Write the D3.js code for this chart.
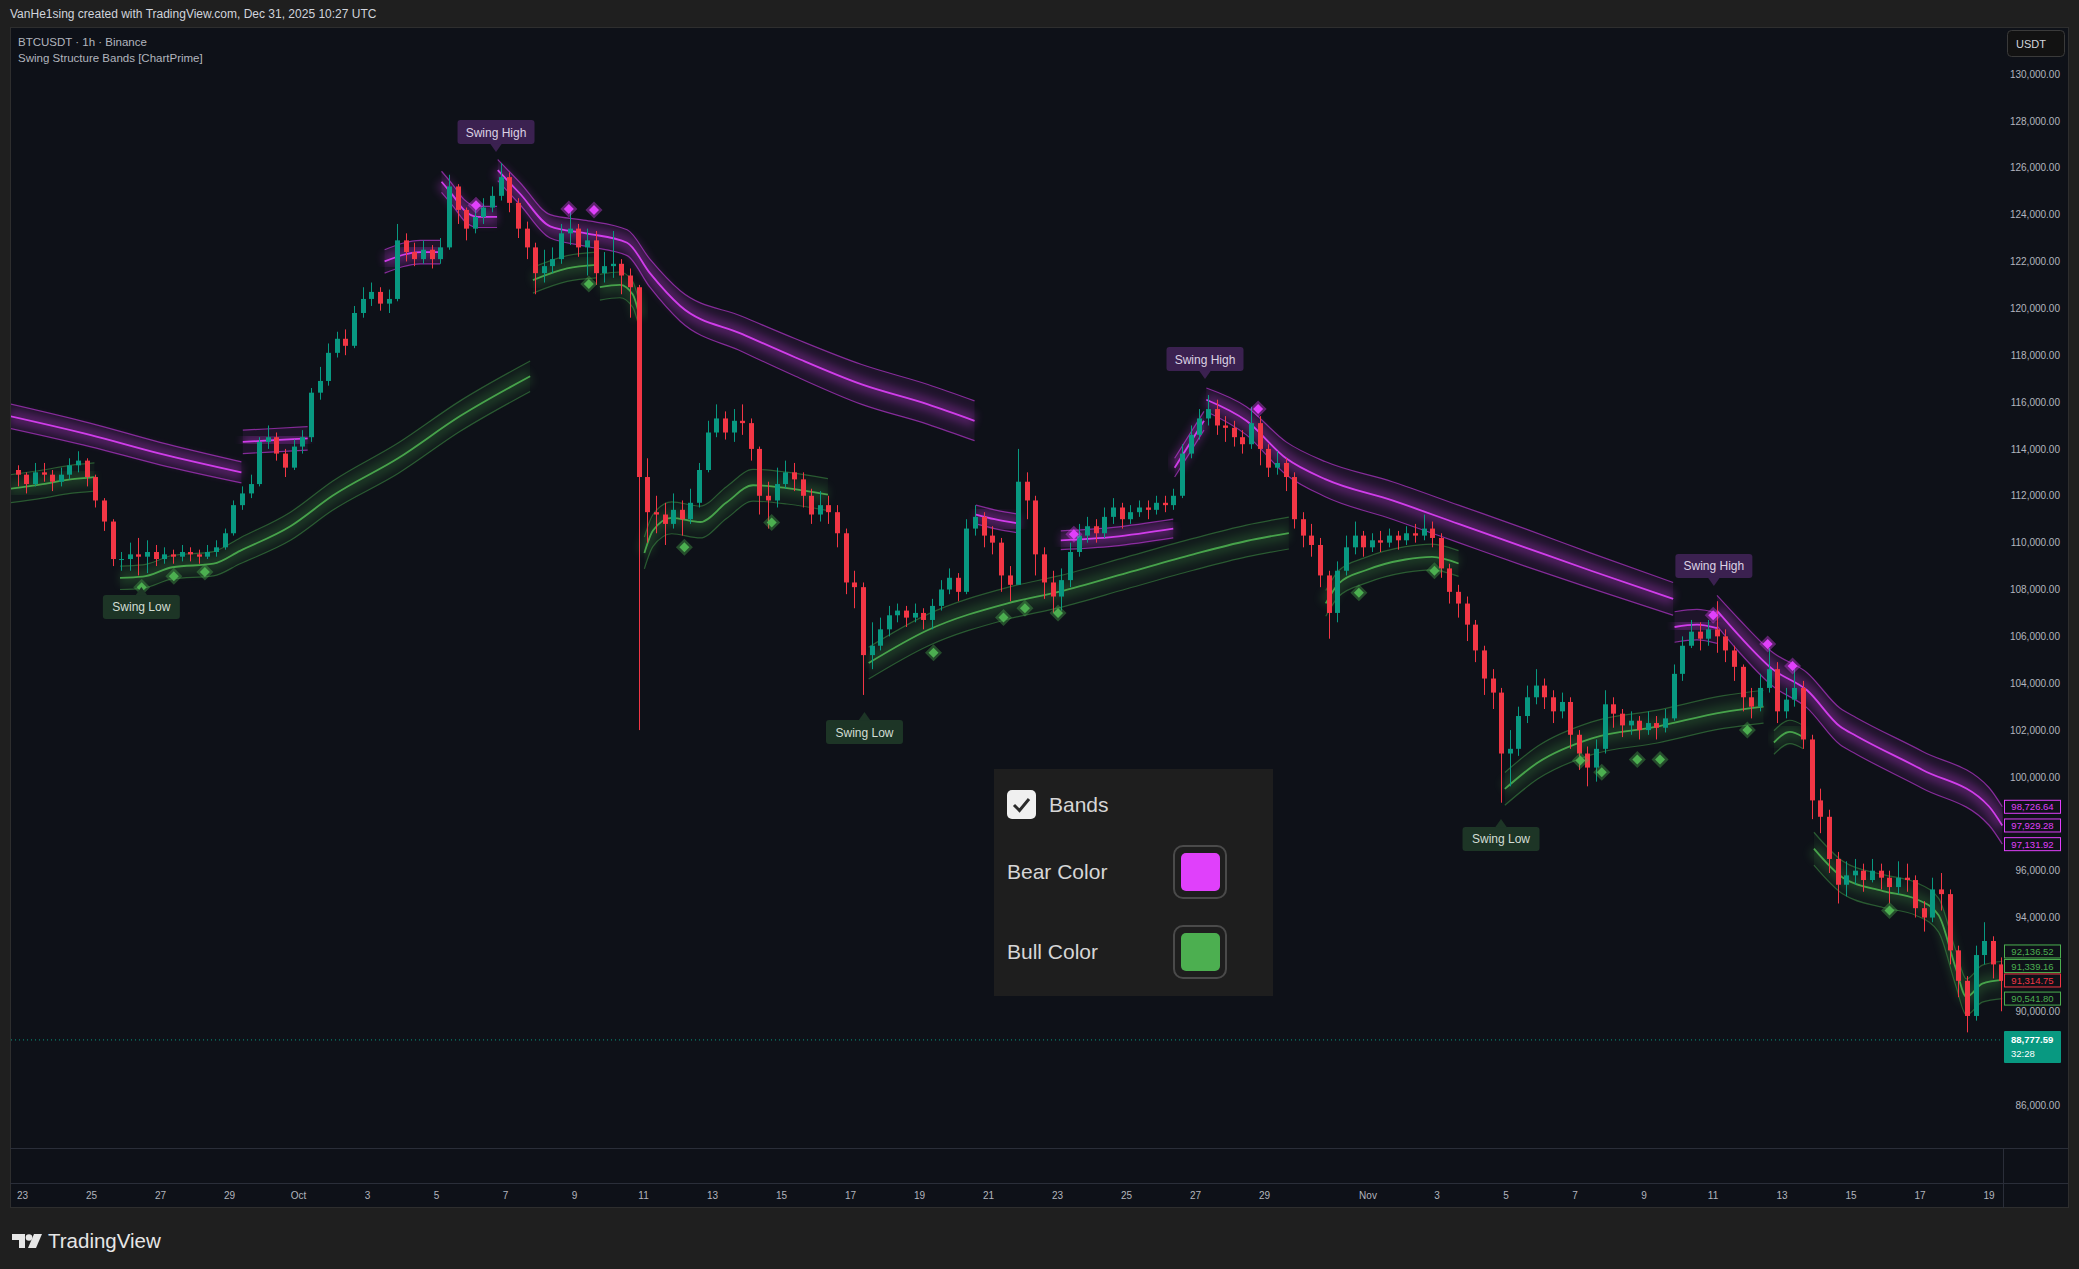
<!DOCTYPE html>
<html><head><meta charset="utf-8">
<script src="https://cdn.jsdelivr.net/npm/d3@7"></script>
<style>
html,body{margin:0;padding:0;background:#1f1f1f;}
svg{display:block;}
text{font-family:"Liberation Sans",Arial,sans-serif;}
</style></head><body>
<svg id="chart" width="2079" height="1269"></svg>
<script>
// ---------------- DATA ----------------
// 6-hour candles (prices in thousands USDT), first candle opens Sep 22 18:00 UTC
const candleStartDay = -0.25;          // days from Sep 23 00:00 UTC
const candleStepDay = 0.25;
const firstOpen = 113.1;
const closes = [
 112.9,
 112.5,113.0,112.9,112.6, 112.9,113.3,113.5,112.8, 111.8,110.9,109.3,109.3, 109.5,109.4,109.6,109.3,
 109.5,109.4,109.6,109.5, 109.4,109.6,109.8,110.4, 111.6,112.1,112.5,114.3, 114.5,113.8,113.2,114.1,
 114.5,116.4,116.9,118.1, 118.7,118.4,119.8,120.4, 120.7,120.2,120.4,122.9, 122.4,122.1,122.5,122.1,
 122.6,125.2,124.2,123.4, 123.9,124.3,124.8,125.6, 124.5,123.4,122.6,121.5, 121.8,122.1,123.2,123.4,
 122.6,122.9,121.5,121.8, 121.9,121.4,120.9,112.8, 111.3,111.2,110.8,111.4, 111.0,111.7,113.1,114.7,
 115.3,114.7,115.2,115.1, 114.0,112.0,111.8,112.5, 113.0,112.7,112.0,111.2, 111.6,111.3,110.4,108.3,
 108.1,105.2,105.6,106.3, 106.9,107.1,106.8,107.0, 106.7,107.3,108.0,108.5, 107.9,110.6,111.1,110.3,
 110.0,108.6,108.2,112.6, 111.8,109.5,108.3,107.7, 108.4,109.6,110.3,110.7, 110.4,111.1,111.5,111.0,
 111.3,111.5,111.4,111.7, 111.6,112.0,113.8,114.6, 115.3,115.7,115.0,114.9, 114.5,114.2,115.1,114.0,
 113.2,113.4,112.8,111.0, 110.3,109.9,108.6,107.0, 108.8,109.8,110.3,109.8, 110.1,110.0,110.3,110.1,
 110.4,110.3,110.6,110.2, 108.9,107.9,107.4,106.5, 105.4,104.2,103.6,101.0, 101.2,102.6,103.4,103.9,
 103.4,102.8,103.2,101.8, 101.0,100.4,101.2,103.1, 102.7,102.2,102.4,102.0, 102.3,102.1,102.5,104.4,
 105.6,106.2,105.9,106.3, 106.0,105.4,104.7,103.4, 103.0,103.8,104.6,102.8, 103.3,103.8,101.6,99.0,
 98.3,96.5,95.4,95.8, 96.0,95.6,96.0,95.7, 95.3,95.7,95.6,94.4, 94.0,95.2,95.0,92.6,
 91.3,89.8,92.4,93.0, 92.0,91.3
];
const highs = [
 113.3,
 113.0,113.4,113.4,113.1, 113.2,113.6,113.9,113.6, 112.9,111.9,111.0,109.6, 110.0,110.2,110.1,109.9,
 109.8,109.7,109.9,109.8, 109.7,109.9,110.1,110.6, 111.8,112.4,112.9,114.5, 115.0,114.7,114.0,114.4,
 114.8,116.6,117.5,118.5, 119.0,119.1,120.1,120.9, 121.1,120.9,120.8,123.6, 123.2,122.8,122.9,122.7,
 123.0,125.7,125.3,124.3, 124.3,124.7,125.2,126.2, 125.8,124.7,123.7,122.8, 122.5,122.6,123.6,124.2,
 123.6,123.4,123.3,122.4, 123.3,122.1,121.7,121.0, 113.6,112.0,111.7,112.1, 111.8,112.3,113.4,115.2,
 115.9,115.6,115.7,115.9, 115.3,114.1,112.6,113.2, 113.5,113.4,113.0,112.3, 112.2,112.0,111.6,110.6,
 108.8,108.3,106.6,106.8, 107.3,107.4,107.3,107.4, 107.2,107.6,108.4,108.9, 108.7,111.0,111.6,111.3,
 110.7,110.2,109.0,114.0, 113.0,112.0,109.8,108.8, 108.9,110.0,110.8,111.1, 111.0,111.5,111.9,111.7,
 111.6,111.8,111.8,112.0, 112.0,112.3,114.2,115.0, 115.7,116.3,116.1,115.4, 115.2,114.8,115.8,115.4,
 114.2,113.9,113.6,113.0, 111.3,110.8,110.2,108.8, 109.2,110.3,110.9,110.5, 110.4,110.5,110.6,110.5,
 110.7,110.8,111.2,110.9, 110.4,109.1,108.2,107.7, 106.7,105.6,104.6,103.8, 102.0,103.0,103.9,104.6,
 104.2,103.7,103.6,103.4, 102.0,101.3,101.6,103.7, 103.4,102.9,102.8,102.6, 102.8,102.6,102.9,104.8,
 106.0,106.7,106.6,106.7, 107.5,106.3,105.6,104.8, 103.8,104.4,105.5,104.9, 103.8,104.6,104.1,101.8,
 99.5,98.6,96.8,96.4, 96.5,96.3,96.5,96.3, 96.0,96.4,96.3,95.8, 94.7,95.7,95.9,95.2,
 92.8,91.5,92.8,93.8, 93.2,92.3
];
const lows = [
 112.4,
 112.1,112.4,112.6,112.2, 112.4,112.7,113.0,112.4, 111.5,110.5,109.0,108.8, 108.8,108.6,108.7,109.0,
 109.1,109.1,109.2,109.2, 109.1,109.3,109.4,109.7, 110.3,111.4,111.9,112.4, 114.0,113.5,112.8,113.1,
 113.8,114.3,116.1,116.7, 117.9,118.0,118.3,119.6, 120.1,119.9,119.8,120.3, 122.0,121.8,121.9,121.7,
 121.9,122.5,123.6,122.9, 123.2,123.6,124.1,124.6, 124.1,123.0,122.1,120.6, 121.1,121.5,121.9,122.7,
 122.2,121.4,121.0,121.1, 121.3,120.6,119.6,102.0, 110.0,110.4,109.9,110.6, 110.3,110.8,111.5,113.0,
 114.5,114.4,114.3,114.6, 113.5,111.2,110.6,111.5, 112.3,112.2,111.5,110.8, 110.9,110.8,109.8,107.8,
 107.2,103.5,104.6,105.4, 106.0,106.6,106.4,106.6, 106.3,106.3,107.1,107.8, 107.5,107.8,110.3,109.8,
 109.5,107.9,107.5,108.3, 111.0,108.6,107.6,107.0, 107.1,108.1,109.4,110.0, 110.0,110.2,110.8,110.6,
 110.8,111.1,111.0,111.2, 111.3,111.4,111.9,113.6, 114.4,115.0,114.6,114.3, 114.1,113.8,114.0,113.3,
 112.8,112.9,112.2,110.6, 109.8,109.4,108.1,105.9, 106.6,108.6,109.5,109.4, 109.6,109.6,109.8,109.7,
 109.9,110.0,110.1,109.8, 108.5,107.4,106.8,105.8, 104.9,103.5,102.9,98.9, 99.6,100.9,102.3,103.1,
 102.9,102.3,102.5,101.2, 100.3,99.6,99.8,101.0, 102.1,101.7,101.8,101.6, 101.8,101.6,101.9,102.4,
 104.1,105.5,105.4,105.6, 105.3,104.9,104.1,102.8, 102.5,102.8,103.6,102.3, 102.5,103.0,101.2,98.2,
 97.6,95.9,94.6,94.9, 95.4,95.1,95.5,95.2, 94.6,95.0,95.1,94.0, 93.4,93.8,94.3,92.0,
 90.6,89.1,89.6,92.0, 91.4,90.0
];

// Band segments: [day, mid (k), half width (k)]
const bearSegments = [
 [[-0.35,115.4,0.52],[1.97,114.6,0.5],[4.0,113.8,0.48],[6.36,113.0,0.45]],
 [[6.40,114.3,0.5],[7.05,114.35,0.5],[8.28,114.45,0.5]],
 [[10.51,122.0,0.5],[11.55,122.4,0.5],[12.12,122.4,0.5]],
 [[12.16,125.4,0.45],[12.5,124.8,0.45],[12.81,124.2,0.45],[13.2,123.9,0.45],[13.77,123.9,0.45]],
 [[13.79,125.9,0.45],[14.43,124.9,0.47],[15.31,123.5,0.5],[16.35,123.2,0.55],[17.54,122.8,0.55],[18.2,121.5,0.6],[19.08,120.1,0.65],[20.88,118.9,0.75],[22.42,117.9,0.8],[24.34,116.75,0.85],[26.26,115.9,0.85],[27.61,115.2,0.85]],
 [[27.65,111.2,0.4],[28.19,111.0,0.4],[28.95,110.8,0.4]],
 [[30.11,110.1,0.4],[31.64,110.25,0.4],[33.37,110.6,0.4]],
 [[33.41,113.2,0.4],[34.26,115.2,0.4]],
 [[34.33,116.1,0.5],[35.49,115.2,0.6],[36.64,113.6,0.7],[37.79,112.7,0.75],[39.72,111.8,0.8],[41.64,110.8,0.8],[43.56,109.8,0.8],[45.48,108.8,0.75],[47.86,107.6,0.7]],
 [[47.90,106.4,0.65],[48.55,106.5,0.65],[49.13,106.35,0.65]],
 [[49.13,107.1,0.65],[49.79,106.0,0.7],[50.74,104.6,0.72],[51.74,103.7,0.75],[52.70,102.15,0.78],[53.17,101.75,0.78],[55.09,100.3,0.79],[57.01,98.75,0.8],[57.4,97.929,0.797]]
];
const bullSegments = [
 [[-0.35,112.3,0.6],[0.6,112.5,0.6],[1.4,112.7,0.6],[2.1,112.8,0.6]],
 [[2.84,108.5,0.5],[3.5,108.55,0.5],[4.36,108.95,0.5],[5.55,109.1,0.52],[6.32,109.65,0.55],[7.78,110.7,0.6],[9.0,112.0,0.62],[10.9,113.6,0.65],[12.7,115.4,0.65],[14.73,117.1,0.65]],
 [[14.81,121.2,0.55],[15.8,121.7,0.55],[16.65,121.85,0.55]],
 [[16.75,120.9,0.55],[17.33,121.0,0.55],[17.7,120.6,0.55],[17.91,119.6,0.55]],
 [[18.04,109.56,0.68],[18.29,110.52,0.68],[18.83,111.06,0.68],[19.66,110.88,0.68],[20.42,111.71,0.68],[21.19,112.45,0.68],[22.17,112.33,0.68],[23.36,112.05,0.68]],
 [[24.54,104.86,0.68],[26.26,106.27,0.68],[28.57,107.41,0.68],[30.11,107.92,0.68],[32.03,108.71,0.68],[33.95,109.5,0.68],[35.49,110.07,0.68],[36.72,110.41,0.68]],
 [[37.79,107.41,0.55],[38.17,108.26,0.55],[38.95,108.82,0.55],[40.1,109.28,0.55],[40.87,109.39,0.55],[41.64,109.11,0.55]],
 [[42.98,99.49,0.7],[43.94,100.62,0.7],[45.48,101.64,0.7],[47.4,102.15,0.7],[49.32,102.77,0.7],[50.48,103.0,0.7]],
 [[50.78,101.47,0.5],[51.24,101.92,0.5],[51.63,101.7,0.5]],
 [[51.94,96.94,0.7],[52.78,95.7,0.7],[53.94,95.13,0.7],[54.9,94.79,0.7],[55.55,94.11,0.72],[56.05,91.85,0.75],[56.36,90.61,0.77],[56.82,91.18,0.79],[57.4,91.339,0.797]]
];

// pivot markers (day, price k)
const bearPivotDays   = [13.16,15.85,16.58,30.49,35.83,49.02,50.6,51.32];
const bearPivotPrices = [124.4,124.24,124.2,110.36,115.7,106.9,105.67,104.73];
const bullPivotDays   = [3.47,4.40,5.30,16.43,19.2,21.73,26.42,28.45,29.07,30.03,38.75,40.94,45.17,45.79,46.82,47.48,50.01,54.13];
const bullPivotPrices = [108.1,108.57,108.75,121.04,109.8,110.86,105.3,106.8,107.2,107.0,107.86,108.8,100.7,100.2,100.74,100.74,102.0,94.3];

// swing labels
const swingHighDays = [13.74,34.29,49.04];
const swingHighPrices = [126.67,116.98,108.15];
const swingLowDays = [3.46,24.42,42.87];
const swingLowPrices = [108.11,102.77,98.21];

// axis (ticks hidden behind scale labels in the reference are not listed)
const priceTicks = [86,90,94,96,100,102,104,106,108,110,112,114,116,118,120,122,124,126,128,130];
const timeTickDays = [0,2,4,6,8,10,12,14,16,18,20,22,24,26,28,30,32,34,36,39,41,43,45,47,49,51,53,55,57];

// right-hand scale labels
const bearLabelValues = [98726.64,97929.28,97131.92];
const bullLabelValues = [92136.52,91339.16,90541.80];
const lastCloseValue = 91314.75;
const currentPrice = 88777.59;
const countdown = "32:28";

// ---------------- DRAW ----------------
const BEAR = "#e040fb", BULL = "#4caf50", UP = "#089981", DOWN = "#f23645";
const svg = d3.select("#chart");
const day0 = Date.UTC(2025,8,23);
const x = d3.scaleLinear().domain([0,57]).range([22, 22+57*34.5]);
const y = d3.scaleLinear().domain([86,130]).range([1105,74]);
const plotL = 10, plotR = 2003, paneT = 27, paneB = 1208;

const defs = svg.append("defs");
defs.append("filter").attr("id","blur").attr("x","-20%").attr("y","-50%").attr("width","140%").attr("height","200%")
  .append("feGaussianBlur").attr("stdDeviation",4);
defs.append("clipPath").attr("id","plotClip").append("rect")
  .attr("x",plotL+1).attr("y",paneT+1).attr("width",plotR-plotL-1).attr("height",1148-paneT-1);

svg.append("rect").attr("width",2079).attr("height",1269).attr("fill","#1f1f1f");
svg.append("rect").attr("x",10.5).attr("y",27.5).attr("width",2058).attr("height",1180)
  .attr("fill","#0e1118").attr("stroke","#2e2e2e");

// header
svg.append("text").attr("x",10).attr("y",18).attr("font-size",12).attr("fill","#d1d4dc")
  .text("VanHe1sing created with TradingView.com, Dec 31, 2025 10:27 UTC");

const plot = svg.append("g").attr("clip-path","url(#plotClip)");

// bands
function drawBands(segs, color, fillOpacity, glowOpacity, dimOpacity){
  const g = plot.append("g");
  segs.forEach(seg=>{
    const pts = seg.map(p=>({d:p[0],m:p[1],h:p[2]}));
    const area = d3.area().curve(d3.curveMonotoneX).x(p=>x(p.d)).y0(p=>y(p.m-p.h)).y1(p=>y(p.m+p.h));
    const ln = acc => d3.line().curve(d3.curveMonotoneX).x(p=>x(p.d)).y(acc);
    g.append("path").attr("d",area(pts)).attr("fill",color).attr("opacity",fillOpacity);
    g.append("path").attr("d",ln(p=>y(p.m))(pts)).attr("fill","none").attr("stroke",color)
      .attr("stroke-width",14).attr("opacity",glowOpacity).attr("filter","url(#blur)");
    g.append("path").attr("d",ln(p=>y(p.m+p.h))(pts)).attr("fill","none").attr("stroke",color)
      .attr("stroke-width",1.2).attr("opacity",dimOpacity);
    g.append("path").attr("d",ln(p=>y(p.m-p.h))(pts)).attr("fill","none").attr("stroke",color)
      .attr("stroke-width",1.2).attr("opacity",dimOpacity);
    g.append("path").attr("d",ln(p=>y(p.m))(pts)).attr("fill","none").attr("stroke",color)
      .attr("stroke-width",1.8).attr("opacity",0.9);
  });
}
drawBands(bearSegments, BEAR, 0.08, 0.26, 0.55);
drawBands(bullSegments, BULL, 0.06, 0.2, 0.45);

// candles
const candles = closes.map((c,i)=>({
  d: candleStartDay + i*candleStepDay + candleStepDay/2,
  o: i===0 ? firstOpen : closes[i-1], c, h: highs[i], l: lows[i]
}));
const cg = plot.append("g");
cg.selectAll("line").data(candles).join("line")
  .attr("x1",c=>Math.round(x(c.d))+0.5).attr("x2",c=>Math.round(x(c.d))+0.5)
  .attr("y1",c=>y(c.h)).attr("y2",c=>y(c.l))
  .attr("stroke",c=>c.c>=c.o?UP:DOWN).attr("stroke-width",1);
cg.selectAll("rect").data(candles).join("rect")
  .attr("x",c=>Math.round(x(c.d))-2).attr("width",5)
  .attr("y",c=>y(Math.max(c.o,c.c))).attr("height",c=>Math.max(1,Math.abs(y(c.o)-y(c.c))))
  .attr("fill",c=>c.c>=c.o?UP:DOWN);

// pivot diamonds
function diamond(cx,cy,r){return `M${cx},${cy-r}L${cx+r},${cy}L${cx},${cy+r}L${cx-r},${cy}Z`;}
function drawPivots(days, prices, color){
  const g = plot.append("g");
  days.forEach((d,i)=>{
    const cx=x(d), cy=y(prices[i]);
    g.append("path").attr("d",diamond(cx,cy,8.5)).attr("fill",color).attr("opacity",0.38);
    g.append("path").attr("d",diamond(cx,cy,5)).attr("fill",color);
  });
}
drawPivots(bearPivotDays, bearPivotPrices, BEAR);
drawPivots(bullPivotDays, bullPivotPrices, BULL);

// swing labels
function drawSwing(days, prices, isHigh){
  const g = plot.append("g");
  days.forEach((d,i)=>{
    const cx=x(d), cy=y(prices[i]);
    const fill = isHigh ? "#3b2150" : "#1d3526";
    const tc = isHigh ? "#dcd2e4" : "#d3ded5";
    const by = isHigh ? cy-32 : cy+8;
    const tri = isHigh ? `M${cx-6},${cy-8.5}L${cx+6},${cy-8.5}L${cx},${cy}Z` : `M${cx-6},${cy+8.5}L${cx+6},${cy+8.5}L${cx},${cy}Z`;
    g.append("rect").attr("x",cx-38.5).attr("y",by).attr("width",77).attr("height",24).attr("rx",3).attr("fill",fill);
    g.append("path").attr("d",tri).attr("fill",fill);
    g.append("text").attr("x",cx).attr("y",by+16.5).attr("text-anchor","middle").attr("font-size",12)
      .attr("fill",tc).text(isHigh?"Swing High":"Swing Low");
  });
}
drawSwing(swingHighDays, swingHighPrices, true);
drawSwing(swingLowDays, swingLowPrices, false);

// current price dotted line
svg.append("line").attr("x1",plotL+1).attr("x2",plotR).attr("y1",y(currentPrice/1000)).attr("y2",y(currentPrice/1000))
  .attr("stroke",UP).attr("stroke-width",1).attr("stroke-dasharray","1,3");

// pane separators
svg.append("line").attr("x1",10).attr("x2",2068).attr("y1",1148.5).attr("y2",1148.5).attr("stroke","#2a2e39");
svg.append("line").attr("x1",10).attr("x2",2068).attr("y1",1183.5).attr("y2",1183.5).attr("stroke","#2a2e39");
svg.append("line").attr("x1",plotR+0.5).attr("x2",plotR+0.5).attr("y1",1148).attr("y2",1208).attr("stroke","#2a2e39");

// pane titles
svg.append("text").attr("x",18).attr("y",46).attr("font-size",11.5).attr("fill","#b2b5be").text("BTCUSDT · 1h · Binance");
svg.append("text").attr("x",18).attr("y",62).attr("font-size",11.5).attr("fill","#b2b5be").text("Swing Structure Bands [ChartPrime]");

// price axis
const fmt = d3.format(",.2f");
const yAxis = d3.axisLeft(y).tickValues(priceTicks).tickSize(0).tickPadding(0).tickFormat(v=>fmt(v*1000));
const ya = svg.append("g").attr("transform","translate(2060,0)").call(yAxis);
ya.select(".domain").remove();
ya.selectAll("text").attr("font-size",10).attr("fill","#b2b5be").attr("font-family","Liberation Sans, Arial, sans-serif");

// time axis
const dayFmt = d3.utcFormat("%-d"), monFmt = d3.utcFormat("%b");
const xAxis = d3.axisBottom(x).tickValues(timeTickDays).tickSize(0).tickPadding(0)
  .tickFormat(d=>{const dt=new Date(day0+d*864e5); return dt.getUTCDate()===1?monFmt(dt):dayFmt(dt);});
const xa = svg.append("g").attr("transform","translate(0,1192)").call(xAxis);
xa.select(".domain").remove();
xa.selectAll("text").attr("font-size",10).attr("fill","#b2b5be").attr("font-family","Liberation Sans, Arial, sans-serif");

// USDT box
svg.append("rect").attr("x",2007.5).attr("y",30.5).attr("width",57).attr("height",26).attr("rx",4)
  .attr("fill","#121212").attr("stroke","#3a3a3a");
svg.append("text").attr("x",2016).attr("y",48).attr("font-size",11).attr("fill","#d1d4dc").text("USDT");

// scale labels with overlap resolution
const scaleLabels = [
  ...bearLabelValues.map(v=>({v,color:BEAR})),
  ...bullLabelValues.map(v=>({v,color:BULL})),
  {v:lastCloseValue,color:DOWN}
].map(o=>({...o, yy:y(o.v/1000)})).sort((a,b)=>a.yy-b.yy);
for(let i=scaleLabels.length-2;i>=0;i--){
  if(scaleLabels[i+1].yy - scaleLabels[i].yy < 14.5) scaleLabels[i].yy = scaleLabels[i+1].yy - 14.5;
}
scaleLabels.forEach(o=>{
  svg.append("rect").attr("x",2004.5).attr("y",o.yy-6.5).attr("width",56).attr("height",13)
    .attr("fill","#0e1118").attr("stroke",o.color);
  svg.append("text").attr("x",2032.5).attr("y",o.yy+3.6).attr("text-anchor","middle").attr("font-size",9.5)
    .attr("fill",o.color).text(fmt(o.v));
});
const cy0 = y(currentPrice/1000);
svg.append("rect").attr("x",2004).attr("y",cy0-9).attr("width",57).attr("height",32).attr("rx",1).attr("fill",UP);
svg.append("text").attr("x",2011).attr("y",cy0+3.5).attr("font-size",9.5).attr("font-weight","bold").attr("fill","#ffffff").text(fmt(currentPrice));
svg.append("text").attr("x",2011).attr("y",cy0+17).attr("font-size",9.5).attr("fill","#ffffff").text(countdown);

// legend panel
const lg = svg.append("g");
lg.append("rect").attr("x",994).attr("y",769).attr("width",279).attr("height",227).attr("fill","#1e1e1e");
lg.append("rect").attr("x",1007).attr("y",790).attr("width",29).attr("height",29).attr("rx",5).attr("fill","#f0f0f0");
lg.append("path").attr("d","M1014,805 L1019.5,810.5 L1029,799").attr("fill","none").attr("stroke","#2b2b2b").attr("stroke-width",3);
lg.append("text").attr("x",1049).attr("y",812).attr("font-size",21).attr("fill","#d6d6d6").text("Bands");
[["Bear Color",BEAR,879,845],["Bull Color",BULL,959,925]].forEach(([t,c,ty,sy])=>{
  lg.append("text").attr("x",1007).attr("y",ty).attr("font-size",21).attr("fill","#d6d6d6").text(t);
  lg.append("rect").attr("x",1174).attr("y",sy+1).attr("width",52).attr("height",52).attr("rx",9)
    .attr("fill","none").attr("stroke","#4a4a4a").attr("stroke-width",2);
  lg.append("rect").attr("x",1181).attr("y",sy+8).attr("width",39).attr("height",38).attr("rx",5).attr("fill",c);
});

// TradingView logo
const logo = svg.append("g").attr("fill","#e6e6e6");
logo.append("path").attr("d","M12,1234 H25 V1248 H19 V1240 H12 Z");
logo.append("circle").attr("cx",29).attr("cy",1237.5).attr("r",3.3);
logo.append("path").attr("d","M34,1234 H42 L36,1248 H28 Z");
svg.append("text").attr("x",48).attr("y",1248).attr("font-size",20.5).attr("font-weight","500")
  .attr("fill","#e6e6e6").attr("font-family","Open Sans, sans-serif").text("TradingView");
</script>
</body></html>
